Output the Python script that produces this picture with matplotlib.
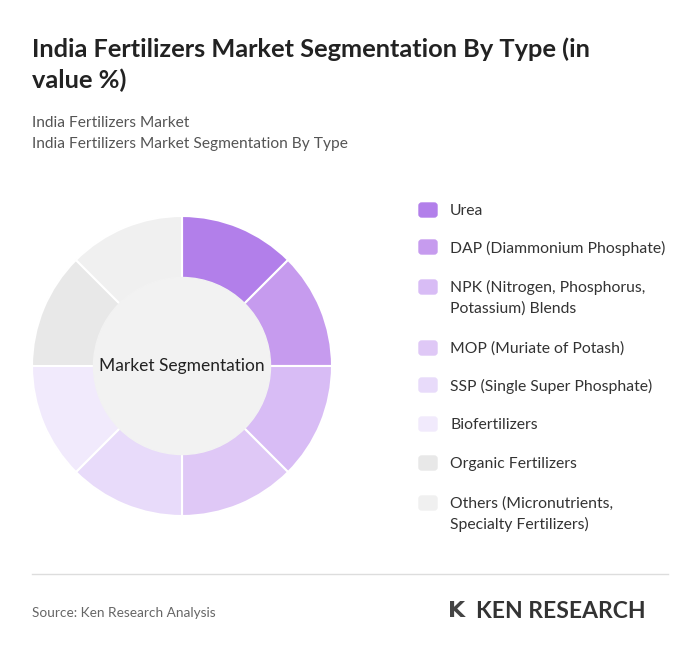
import matplotlib
matplotlib.use("Agg")
import matplotlib.pyplot as plt
from matplotlib.patches import Circle, FancyBboxPatch

categories = ["Urea", "DAP (Diammonium Phosphate)", "NPK (Nitrogen, Phosphorus,\nPotassium) Blends",
              "MOP (Muriate of Potash)", "SSP (Single Super Phosphate)", "Biofertilizers",
              "Organic Fertilizers", "Others (Micronutrients,\nSpecialty Fertilizers)"]
values = [12.5, 12.5, 12.5, 12.5, 12.5, 12.5, 12.5, 12.5]
colors = ["#b27fea", "#c69bee", "#d8bcf5", "#dfc8f6", "#e8dbfa", "#f1eafc", "#e8e8e8", "#f0f0f0"]

W, H = 700, 659
fig = plt.figure(figsize=(7, 6.59), dpi=100)
fig.patch.set_facecolor("white")
def fx(x): return x / W
def fy(y): return 1 - y / H

fig.text(fx(32), fy(65), "India Fertilizers Market Segmentation By Type (in\nvalue %)", fontsize=18.3,
         fontweight="bold", color="#222222", va="center", linespacing=1.38, family="Lato")
fig.text(fx(32), fy(123), "India Fertilizers Market", fontsize=11.2, color="#555555", va="center", family="Lato")
fig.text(fx(32), fy(144), "India Fertilizers Market Segmentation By Type", fontsize=11.2, color="#555555", va="center", family="Lato")

ax = fig.add_axes([fx(32), fy(516), 300 / W, 300 / H])
ax.pie(values, colors=colors, startangle=90, counterclock=False,
       wedgeprops=dict(width=1, edgecolor="white", linewidth=1.5))
ax.add_patch(Circle((0, 0), 0.59, color="#f2f2f2", zorder=5))
ax.text(0, 0, "Market Segmentation", ha="center", va="center", fontsize=12.5, color="#222222", zorder=6, family="Lato")
ax.set_xlim(-1, 1); ax.set_ylim(-1, 1); ax.set_aspect("equal")
ax.axis("off")

ys = [210, 247, 297, 348, 385, 424, 463, 513]
for cat, col, y in zip(categories, colors, ys):
    first = y - (10 if "\n" in cat else 0)
    fig.patches.append(FancyBboxPatch((fx(419), fy(first + 7)), 18 / W, 14 / H,
                                      boxstyle="round,pad=0,rounding_size=0.004",
                                      transform=fig.transFigure, color=col))
    fig.text(fx(450), fy(y + 1), cat, fontsize=11.3, color="#333333", va="center", linespacing=1.55, family="Lato")

fig.add_artist(plt.Line2D([fx(32), fx(668)], [fy(574), fy(574)], color="#dddddd", lw=1, transform=fig.transFigure))
fig.text(fx(32), fy(613), "Source: Ken Research Analysis", fontsize=9.8, color="#666666", va="center", family="Lato")
fig.text(fx(448), fy(611), "K", fontsize=16, fontweight="bold", color="#444444", va="center")
fig.text(fx(476), fy(611), "KEN RESEARCH", fontsize=16.5, fontweight="bold", color="#333333", va="center", family="Lato")

fig.savefig("out.png", dpi=100)
